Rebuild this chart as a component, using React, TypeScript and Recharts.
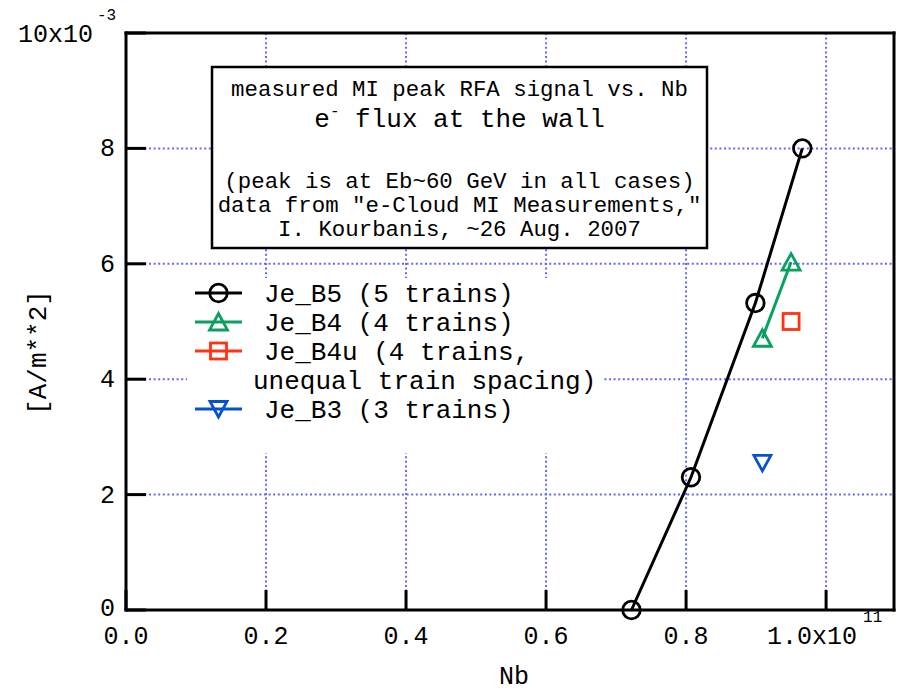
import { CartesianGrid, Legend, Scatter, ScatterChart, XAxis, YAxis } from "recharts";

// axis ranges and tick values (flux in units of 1e-3 A/m^2, Nb in units of 1e11)
const xTicks = [0, 0.2, 0.4, 0.6, 0.8, 1.0];
const yTicks = [0, 2, 4, 6, 8, 10];
const xMax = 1.097;
const yMax = 10;

// Je_B5 (5 trains)
const b5Nb = [0.722, 0.807, 0.899, 0.966];
const b5Flux = [0.0, 2.3, 5.32, 8.0];

// Je_B4 (4 trains)
const b4Nb = [0.909, 0.95];
const b4Flux = [4.71, 6.03];

// Je_B4u (4 trains, unequal spacing)
const b4uNb = [0.95];
const b4uFlux = [5.0];

// Je_B3 (3 trains)
const b3Nb = [0.909];
const b3Flux = [2.55];

const noteLines = [
  "measured MI peak RFA signal vs. Nb",
  "(peak is at Eb~60 GeV in all cases)",
  'data from "e-Cloud MI Measurements,"',
  "I. Kourbanis, ~26 Aug. 2007",
];

const FONT = "'Liberation Mono', 'Courier New', monospace";
const GRID = "#6666ff";

type Marker = "circle" | "triangle" | "square" | "down";

const zip = (xs: number[], ys: number[]) => xs.map((nb, i) => ({ nb, flux: ys[i] }));

const series: { name: string; color: string; marker: Marker; data: { nb: number; flux: number }[] }[] = [
  { name: "Je_B5 (5 trains)", color: "#000000", marker: "circle", data: zip(b5Nb, b5Flux) },
  { name: "Je_B4 (4 trains)", color: "#0aa060", marker: "triangle", data: zip(b4Nb, b4Flux) },
  { name: "Je_B4u (4 trains,\nunequal train spacing)", color: "#ff3312", marker: "square", data: zip(b4uNb, b4uFlux) },
  { name: "Je_B3 (3 trains)", color: "#0650d2", marker: "down", data: zip(b3Nb, b3Flux) },
];

function markerPath(kind: Marker, cx: number, cy: number, color: string) {
  const sw = 2.8;
  if (kind === "circle") return <circle cx={cx} cy={cy} r={8.8} fill="none" stroke={color} strokeWidth={sw} />;
  if (kind === "square")
    return <rect x={cx - 8} y={cy - 8} width={16} height={16} fill="none" stroke={color} strokeWidth={sw} />;
  if (kind === "triangle")
    return (
      <polygon
        points={`${cx},${cy - 8.5} ${cx + 9},${cy + 8} ${cx - 9},${cy + 8}`}
        fill="none"
        stroke={color}
        strokeWidth={sw}
      />
    );
  return (
    <polygon
      points={`${cx - 8.5},${cy - 7.5} ${cx + 8.5},${cy - 7.5} ${cx},${cy + 8}`}
      fill="none"
      stroke={color}
      strokeWidth={sw}
    />
  );
}

function BottomTick({ x, y, payload }: any) {
  const v = payload.value as number;
  return (
    <g>
      <line x1={x} y1={y} x2={x} y2={y - 20} stroke="#000" strokeWidth={3} />
      {v === 1 ? (
        <>
          <text x={x - 59} y={y + 34} fontFamily={FONT} fontSize={25} fill="#000">
            1.0x10
          </text>
          <text x={x + 37} y={y + 12} fontFamily={FONT} fontSize={16} fill="#000">
            11
          </text>
        </>
      ) : (
        <text x={x} y={y + 34} textAnchor="middle" fontFamily={FONT} fontSize={25} fill="#000">
          {v.toFixed(1)}
        </text>
      )}
    </g>
  );
}

function LeftTick({ x, y, payload }: any) {
  const v = payload.value as number;
  return (
    <g>
      <line x1={x} y1={y} x2={x + 20} y2={y} stroke="#000" strokeWidth={3} />
      {v === 10 ? (
        <>
          <text x={x - 33} y={y + 9} textAnchor="end" fontFamily={FONT} fontSize={25} fill="#000">
            10x10
          </text>
          <text x={x - 29} y={y - 13} fontFamily={FONT} fontSize={16} fill="#000">
            -3
          </text>
        </>
      ) : (
        <text x={x - 11} y={y + (v === 0 ? 6 : 8)} textAnchor="end" fontFamily={FONT} fontSize={25} fill="#000">
          {v}
        </text>
      )}
    </g>
  );
}

const TopTick = ({ x, y }: any) => <line x1={x} y1={y} x2={x} y2={y + 20} stroke="#000" strokeWidth={3} />;
const RightTick = ({ x, y }: any) => <line x1={x} y1={y} x2={x - 19} y2={y} stroke="#000" strokeWidth={3} />;

function LegendBox({ payload }: any) {
  const shown = new Set((payload ?? []).map((p: any) => p.value));
  const rows: { s: (typeof series)[number]; text: string; first: boolean }[] = [];
  series
    .filter((s) => shown.has(s.name))
    .forEach((s) => s.name.split("\n").forEach((text, i) => rows.push({ s, text, first: i === 0 })));
  return (
    <svg width={415} height={175}>
      {rows.map((r, i) => {
        const cy = 15 + i * 29;
        return (
          <g key={i}>
            {r.first && (
              <>
                <line x1={8} y1={cy} x2={55} y2={cy} stroke={r.s.color} strokeWidth={3} />
                {markerPath(r.s.marker, 31.5, cy, r.s.color)}
              </>
            )}
            <text x={r.first ? 77 : 66} y={cy + 9} fontFamily={FONT} fontSize={26} fill="#000">
              {r.text}
            </text>
          </g>
        );
      })}
    </svg>
  );
}

function NoteBox() {
  const cx = 459.5;
  return (
    <svg width={898} height={691} style={{ position: "absolute", left: 0, top: 0, pointerEvents: "none" }}>
      <rect x={212} y={67} width={495} height={181} fill="#fff" stroke="#000" strokeWidth={2.5} />
      <text x={cx} y={96} textAnchor="middle" fontFamily={FONT} fontSize={22.4} fill="#000">
        {noteLines[0]}
      </text>
      <text x={cx} y={127} textAnchor="middle" fontFamily={FONT} fontSize={26} fill="#000">
        e
        <tspan fontSize={16} dy={-11}>
          -
        </tspan>
        <tspan dy={11}> flux at the wall</tspan>
      </text>
      {noteLines.slice(1).map((t, i) => (
        <text key={t} x={cx} y={188 + i * 24} textAnchor="middle" fontFamily={FONT} fontSize={22.4} fill="#000">
          {t}
        </text>
      ))}
    </svg>
  );
}

const axisLine = { stroke: "#000", strokeWidth: 3, strokeLinecap: "square" as const };

export default function App() {
  return (
    <div style={{ position: "absolute", left: 0, top: 0, width: 898, height: 691, background: "#fff" }}>
      <ScatterChart width={898} height={691} margin={{ top: 32, right: 3, bottom: 80, left: 125 }}>
        <CartesianGrid stroke={GRID} strokeWidth={2} strokeDasharray="2 2.6" />
        <XAxis
          dataKey="nb"
          type="number"
          domain={[0, xMax]}
          ticks={xTicks}
          interval={0}
          height={1}
          tickSize={0}
          tickMargin={0}
          tickLine={false}
          axisLine={axisLine}
          tick={BottomTick}
          label={(p: any) => (
            <text x={p.viewBox.x + p.viewBox.width / 2 + 4} y={684} textAnchor="middle" fontFamily={FONT} fontSize={25}>
              Nb
            </text>
          )}
        />
        <XAxis
          xAxisId="top"
          orientation="top"
          type="number"
          domain={[0, xMax]}
          ticks={xTicks}
          interval={0}
          height={1}
          tickSize={0}
          tickMargin={0}
          tickLine={false}
          axisLine={axisLine}
          tick={TopTick}
        />
        <YAxis
          dataKey="flux"
          type="number"
          domain={[0, yMax]}
          ticks={yTicks}
          interval={0}
          width={1}
          tickSize={0}
          tickMargin={0}
          tickLine={false}
          axisLine={axisLine}
          tick={LeftTick}
          label={(p: any) => {
            const cy = p.viewBox.y + p.viewBox.height / 2 + 31;
            return (
              <text x={46} y={cy} transform={`rotate(-90 46 ${cy})`} textAnchor="middle" fontFamily={FONT} fontSize={26}>
                [A/m**2]
              </text>
            );
          }}
        />
        <YAxis
          yAxisId="right"
          orientation="right"
          type="number"
          domain={[0, yMax]}
          ticks={yTicks}
          interval={0}
          width={1}
          tickSize={0}
          tickMargin={0}
          tickLine={false}
          axisLine={axisLine}
          tick={RightTick}
        />
        {series.map((s) => (
          <Scatter
            key={s.name}
            name={s.name}
            data={s.data}
            fill={s.color}
            line={s.data.length > 1 ? { stroke: s.color, strokeWidth: 3 } : false}
            shape={(p: any) => markerPath(s.marker, p.cx, p.cy, s.color)}
            isAnimationActive={false}
          />
        ))}
        <Legend
          layout="vertical"
          align="center"
          verticalAlign="middle"
          wrapperStyle={{ position: "absolute", left: 187, top: 278, width: 415, height: 175, background: "#fff" }}
          content={LegendBox}
        />
      </ScatterChart>
      <NoteBox />
    </div>
  );
}
